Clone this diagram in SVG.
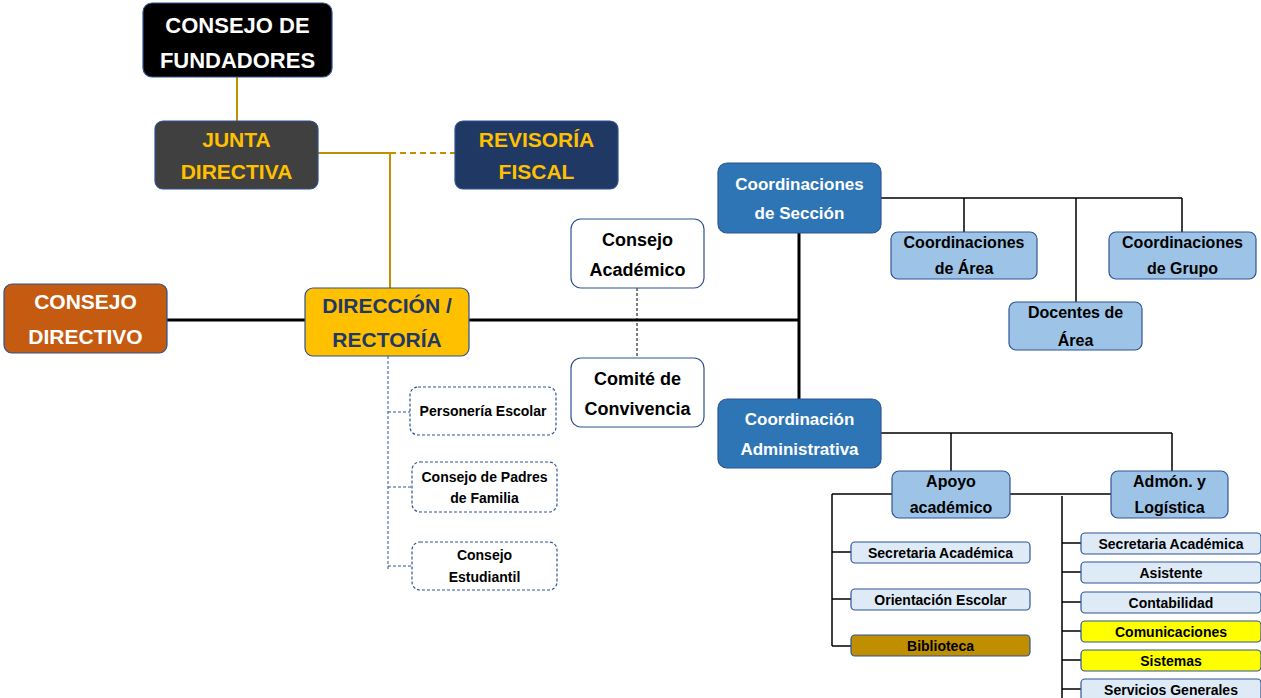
<svg xmlns="http://www.w3.org/2000/svg" width="1261" height="698" viewBox="0 0 1261 698">
<style>
text{font-family:"Liberation Sans",Arial,sans-serif;font-weight:bold;text-anchor:middle}
.big{font-size:21px}
.med{font-size:17px}
.lb{font-size:16px;fill:#000}
.sm{font-size:14px;fill:#000}
.box{stroke:#2F528F;stroke-width:1.2}
.wht{fill:#fff}
.gold{fill:#FFC000}
.navy{fill:#1F3864}
.dk{fill:#000}
.mid{fill:#2E75B6;stroke:#2F5597;stroke-width:1.2}
.light{fill:#9DC3E6;stroke:#2F5597;stroke-width:1.2}
.pale{fill:#DEEBF7;stroke:#2F5597;stroke-width:1.2}
.dash{fill:#fff;stroke:#2F5597;stroke-width:1.2;stroke-dasharray:3 2}
.ln{fill:none;stroke:#000;stroke-width:1.5}
.thick{fill:none;stroke:#000;stroke-width:3}
.gl{fill:none;stroke:#BF9000;stroke-width:2}
</style>
<g id="connectors">
<path class="gl" d="M237 77V121"/>
<path class="gl" d="M318 153H390"/>
<path class="gl" d="M390 153H455" stroke-dasharray="6 4"/>
<path class="gl" d="M390 153V288"/>
<path class="thick" d="M167 320H305"/>
<path class="thick" d="M469 320H799"/>
<path class="thick" d="M799 233V399"/>
<path fill="none" stroke="#000" stroke-width="1" stroke-dasharray="3 2" d="M637 288V358"/>
<path fill="none" stroke="#2F5597" stroke-width="1" stroke-dasharray="3 2" d="M388 356V570M388 412H410M388 487H412M388 566H412"/>
<path class="ln" d="M881 198H1182M964 198V232M1076 198V302M1182 198V232"/>
<path class="ln" d="M881 433H1172M951 433V471M1172 433V471"/>
<path class="ln" d="M832 494H892M1010 494H1111M832 494V646M1062 496V698"/>
<path class="ln" d="M832 552H851M832 599H851M832 646H851"/>
<path class="ln" d="M1062 543H1081M1062 572H1081M1062 602H1081M1062 631H1081M1062 660H1081M1062 689H1081"/>
</g>
<g id="consejo-fundadores">
<rect x="143" y="3" width="189" height="74" rx="9" fill="#000" stroke="#2F528F" stroke-width="1.2"/>
<text class="big wht" x="237.5" y="33" style="font-size:22px">CONSEJO DE</text>
<text class="big wht" x="237.5" y="68" style="font-size:22px">FUNDADORES</text>
</g>
<g id="junta-directiva">
<rect x="155" y="121" width="163" height="68" rx="8" fill="#404040" class="box"/>
<text class="big gold" x="236.5" y="147">JUNTA</text>
<text class="big gold" x="236.5" y="179">DIRECTIVA</text>
</g>
<g id="revisoria-fiscal">
<rect x="455" y="121" width="163" height="68" rx="8" fill="#203864" class="box"/>
<text class="big gold" x="536.5" y="147">REVISORÍA</text>
<text class="big gold" x="536.5" y="179">FISCAL</text>
</g>
<g id="consejo-directivo">
<rect x="4" y="284" width="163" height="69" rx="8" fill="#C55A11" class="box"/>
<text class="big wht" x="85.5" y="309">CONSEJO</text>
<text class="big wht" x="85.5" y="344">DIRECTIVO</text>
</g>
<g id="direccion-rectoria">
<rect x="305" y="288" width="164" height="68" rx="8" fill="#FFC000" class="box"/>
<text class="big navy" x="387" y="313">DIRECCIÓN /</text>
<text class="big navy" x="387" y="347">RECTORÍA</text>
</g>
<g id="consejo-academico">
<rect x="571" y="219" width="133" height="69" rx="10" fill="#fff" class="box"/>
<text class="dk" x="637.5" y="246" style="font-size:18px">Consejo</text>
<text class="dk" x="637.5" y="276" style="font-size:18px">Académico</text>
</g>
<g id="comite-convivencia">
<rect x="571" y="358" width="133" height="69" rx="10" fill="#fff" class="box"/>
<text class="dk" x="637.5" y="385" style="font-size:18px">Comité de</text>
<text class="dk" x="637.5" y="415" style="font-size:18px">Convivencia</text>
</g>
<g id="personeria-escolar">
<rect class="dash" x="410" y="387" width="146" height="48" rx="8"/>
<text class="sm" x="483" y="416">Personería Escolar</text>
</g>
<g id="consejo-padres">
<rect class="dash" x="412" y="462" width="145" height="50" rx="8"/>
<text class="sm" x="484.5" y="482">Consejo de Padres</text>
<text class="sm" x="484.5" y="503">de Familia</text>
</g>
<g id="consejo-estudiantil">
<rect class="dash" x="412" y="542" width="145" height="48" rx="8"/>
<text class="sm" x="484.5" y="560">Consejo</text>
<text class="sm" x="484.5" y="582">Estudiantil</text>
</g>
<g id="coordinaciones-seccion">
<rect class="mid" x="718" y="163" width="163" height="70" rx="9"/>
<text class="med wht" x="799.5" y="190">Coordinaciones</text>
<text class="med wht" x="799.5" y="219">de Sección</text>
</g>
<g id="coordinaciones-area">
<rect class="light" x="891" y="232" width="146" height="47" rx="7"/>
<text class="lb" x="964" y="248">Coordinaciones</text>
<text class="lb" x="964" y="274">de Área</text>
</g>
<g id="docentes-area">
<rect class="light" x="1009" y="302" width="133" height="48" rx="7"/>
<text class="lb" x="1075.5" y="318">Docentes de</text>
<text class="lb" x="1075.5" y="346">Área</text>
</g>
<g id="coordinaciones-grupo">
<rect class="light" x="1109" y="232" width="147" height="47" rx="7"/>
<text class="lb" x="1182.5" y="248">Coordinaciones</text>
<text class="lb" x="1182.5" y="274">de Grupo</text>
</g>
<g id="coordinacion-administrativa">
<rect class="mid" x="718" y="399" width="163" height="69" rx="9"/>
<text class="med wht" x="799.5" y="425">Coordinación</text>
<text class="med wht" x="799.5" y="455">Administrativa</text>
</g>
<g id="apoyo-academico">
<rect class="light" x="892" y="471" width="118" height="47" rx="7"/>
<text class="lb" x="951" y="487">Apoyo</text>
<text class="lb" x="951" y="513">académico</text>
</g>
<g id="admon-logistica">
<rect class="light" x="1111" y="471" width="117" height="47" rx="7"/>
<text class="lb" x="1169.5" y="487">Admón. y</text>
<text class="lb" x="1169.5" y="513">Logística</text>
</g>
<g id="apoyo-secretaria">
<rect class="pale" x="851" y="542" width="179" height="21" rx="4"/>
<text class="sm" x="940.5" y="557.5">Secretaria Académica</text>
</g>
<g id="orientacion-escolar">
<rect class="pale" x="851" y="589" width="179" height="21" rx="4"/>
<text class="sm" x="940.5" y="604.5">Orientación Escolar</text>
</g>
<g id="biblioteca">
<rect x="851" y="635" width="179" height="21" rx="4" fill="#BF8F00" stroke="#2F5597" stroke-width="1.2"/>
<text class="sm" x="940.5" y="650.5">Biblioteca</text>
</g>
<g id="admon-secretaria">
<rect class="pale" x="1081" y="533" width="180" height="21" rx="4"/>
<text class="sm" x="1171" y="548.5">Secretaria Académica</text>
</g>
<g id="asistente">
<rect class="pale" x="1081" y="562" width="180" height="21" rx="4"/>
<text class="sm" x="1171" y="577.5">Asistente</text>
</g>
<g id="contabilidad">
<rect class="pale" x="1081" y="592" width="180" height="21" rx="4"/>
<text class="sm" x="1171" y="607.5">Contabilidad</text>
</g>
<g id="comunicaciones">
<rect x="1081" y="621" width="180" height="21" rx="4" fill="#FFFF00" stroke="#2F5597" stroke-width="1.2"/>
<text class="sm" x="1171" y="636.5">Comunicaciones</text>
</g>
<g id="sistemas">
<rect x="1081" y="650" width="180" height="21" rx="4" fill="#FFFF00" stroke="#2F5597" stroke-width="1.2"/>
<text class="sm" x="1171" y="665.5">Sistemas</text>
</g>
<g id="servicios-generales">
<rect class="pale" x="1081" y="679" width="180" height="22" rx="4"/>
<text class="sm" x="1171" y="694.5">Servicios Generales</text>
</g>
</svg>
